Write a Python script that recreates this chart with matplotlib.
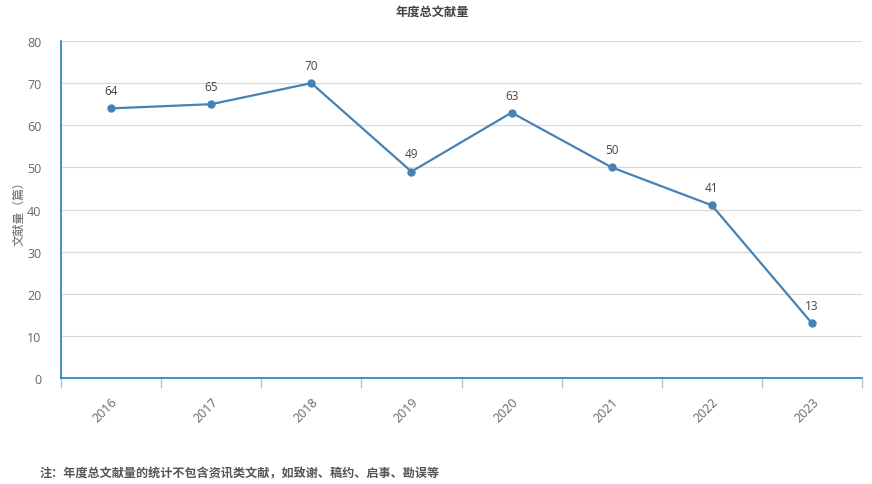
import matplotlib
matplotlib.use("Agg")
import matplotlib.pyplot as plt
from matplotlib.ticker import FixedLocator

plt.rcParams['font.family'] = ['Open Sans', 'Noto Sans CJK SC', 'DejaVu Sans']

years = ["2016", "2017", "2018", "2019", "2020", "2021", "2022", "2023"]
counts = [64, 65, 70, 49, 63, 50, 41, 13]
title = "年度总文献量"
ylabel = "文献量（篇）"
note = "注：年度总文献量的统计不包含资讯类文献，如致谢、稿约、启事、勘误等"

line_color = "#4682b4"
text_color = "#666666"
axis_color = "#1f7fb8"

fig = plt.figure(figsize=(8.72, 4.85), dpi=100)
ax = fig.add_axes([61 / 872, 1 - 379 / 485, 801 / 872, 337 / 485])

x = list(range(len(years)))
ax.plot(x, counts, color=line_color, lw=1.6, marker="o", ms=5,
        markerfacecolor=line_color, markeredgecolor=line_color, zorder=3)
for xi, v in zip(x, counts):
    ax.annotate(str(v), (xi, v), xytext=(0, 8), textcoords="offset points",
                ha="center", va="bottom", fontsize=8.5, color="#444444")

ax.set_xlim(-0.5, len(years) - 0.5)
ax.set_ylim(0, 80)
ax.set_yticks(range(0, 81, 10))
ax.yaxis.grid(True, color="#d9d9d9", lw=0.9)
ax.set_axisbelow(True)

# category band boundaries carry the tick marks, labels sit at band centers
ax.xaxis.set_major_locator(FixedLocator([i - 0.5 for i in range(len(years) + 1)]))
ax.xaxis.set_minor_locator(FixedLocator(x))
ax.set_xticklabels([])
ax.set_xticklabels(years, minor=True, rotation=45, ha="right",
                   rotation_mode="anchor", fontsize=9, color=text_color)
ax.tick_params(axis="x", which="major", length=7, color="#b8c4d0", width=1)
ax.tick_params(axis="x", which="minor", length=0, pad=12)
ax.tick_params(axis="y", length=0, pad=14, labelsize=9, labelcolor=text_color)

for s in ["top", "right"]:
    ax.spines[s].set_visible(False)
for s in ["left", "bottom"]:
    ax.spines[s].set_color(axis_color)
    ax.spines[s].set_linewidth(1.2)

ax.set_ylabel(ylabel, fontsize=8.5, color=text_color)
ax.yaxis.set_label_coords(-0.045, 0.5)

fig.text(432 / 872, 1 - 12 / 485, title, ha="center", va="center",
         fontsize=8.8, fontweight="bold", color="#444444")
fig.text(40 / 872, 1 - 474 / 485, note, ha="left", va="center",
         fontsize=8.7, fontweight="bold", color="#555555")

fig.savefig("out.png", dpi=100)
